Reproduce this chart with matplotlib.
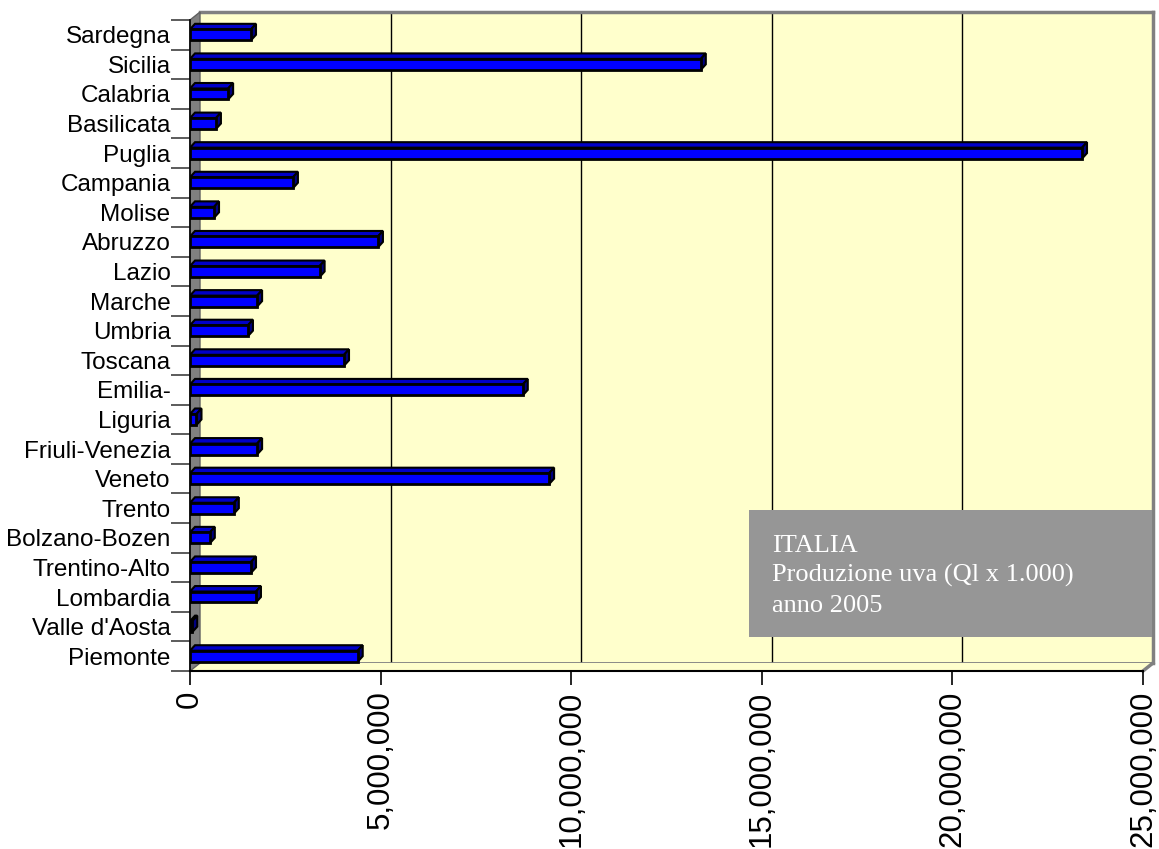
import matplotlib.pyplot as plt
from matplotlib.patches import Polygon, Rectangle
from matplotlib.ticker import FuncFormatter, FixedLocator

# regioni, dal basso verso l'alto
regioni = ["Piemonte", "Valle d'Aosta", "Lombardia", "Trentino-Alto", "Bolzano-Bozen",
           "Trento", "Veneto", "Friuli-Venezia", "Liguria", "Emilia-", "Toscana",
           "Umbria", "Marche", "Lazio", "Abruzzo", "Molise", "Campania", "Puglia",
           "Basilicata", "Calabria", "Sicilia", "Sardegna"]
produzione = [4400000, 60000, 1730000, 1600000, 520000,
              1150000, 9420000, 1760000, 170000, 8730000, 4040000,
              1520000, 1760000, 3400000, 4930000, 630000, 2700000, 23400000,
              680000, 1000000, 13400000, 1600000]
xticks = [0, 5000000, 10000000, 15000000, 20000000, 25000000]
box_righe = ["ITALIA", "Produzione uva (Ql x 1.000)", "anno 2005"]

W, H = 1159, 849
fig = plt.figure(figsize=(W / 100, H / 100), dpi=100)
fig.patch.set_facecolor('white')

YELLOW = '#FFFFCC'
GRAY = '#808080'

def fx(px):
    return px / W

def fy(py):
    return 1 - py / H

# front plane and back wall (pixel boxes)
fl, fr, ft, fb = 190, 1143, 20, 671
ox, oy = 10, 8

ax_back = fig.add_axes([fx(fl + ox), fy(fb - oy), (fr - fl) / W, (fb - ft) / H], zorder=0)
ax_back.set_facecolor(YELLOW)
ax_back.set_xlim(0, 25000000)
ax_back.set_ylim(-0.5, len(regioni) - 0.5)
ax_back.set_xticks(xticks[1:-1])
ax_back.set_yticks([])
ax_back.grid(True, axis='x', color='black', linewidth=1)
ax_back.tick_params(length=0, labelbottom=False)
for s in ['top', 'right']:
    ax_back.spines[s].set_color(GRAY)
    ax_back.spines[s].set_linewidth(2.5)
ax_back.spines['bottom'].set_color(GRAY)
ax_back.spines['bottom'].set_linewidth(2)
ax_back.spines['left'].set_visible(False)

# floor and left wall
floor = Polygon([(fx(fl), fy(fb)), (fx(fr), fy(fb)), (fx(fr + ox), fy(fb - oy)),
                 (fx(fl + ox), fy(fb - oy))], closed=True, transform=fig.transFigure,
                facecolor=YELLOW, edgecolor='none', zorder=0.5)
fig.add_artist(floor)
fig.add_artist(plt.Line2D([fx(fr), fx(fr + ox)], [fy(fb), fy(fb - oy)], color=GRAY, lw=2.5,
                          transform=fig.transFigure, zorder=0.5))
wall = Polygon([(fx(fl), fy(ft)), (fx(fl + ox), fy(ft - oy)), (fx(fl + ox), fy(fb - oy)),
                (fx(fl), fy(fb))], closed=True, transform=fig.transFigure,
               facecolor=GRAY, edgecolor='#606060', lw=1, zorder=0.6)
fig.add_artist(wall)

ax = fig.add_axes([fx(fl), fy(fb), (fr - fl) / W, (fb - ft) / H], zorder=1)
ax.patch.set_alpha(0)
ax.set_xlim(0, 25000000)
ax.set_ylim(-0.5, len(regioni) - 0.5)

# 3D bars: depth in pixels converted to data units
dpx, dpy = 5, 5.5
dx = dpx * 25000000 / (fr - fl)
dy = dpy * len(regioni) / (fb - ft)
h = 0.37
for i, v in enumerate(produzione):
    y0, y1 = i - h / 2, i + h / 2
    top = Polygon([(0, y1), (v, y1), (v + dx, y1 + dy), (dx, y1 + dy)], closed=True,
                  facecolor='#0000C8', edgecolor='black', lw=1.5, zorder=3)
    side = Polygon([(v, y0), (v + dx, y0 + dy), (v + dx, y1 + dy), (v, y1)], closed=True,
                   facecolor='#000080', edgecolor='black', lw=1.5, zorder=3)
    ax.add_patch(top)
    ax.add_patch(side)
ax.barh(range(len(regioni)), produzione, height=h, color='#0000FF', edgecolor='black',
        linewidth=2, zorder=4)

for s in ['top', 'right']:
    ax.spines[s].set_visible(False)
ax.spines['left'].set_color('black')
ax.spines['bottom'].set_color('black')
ax.spines['left'].set_linewidth(1.2)
ax.spines['bottom'].set_linewidth(1.5)

ax.set_xticks(xticks)
ax.xaxis.set_major_formatter(FuncFormatter(lambda v, p: f"{int(v):,}"))
ax.tick_params(axis='x', length=10, width=1.2, color='black', pad=4, direction='out')
for lab in ax.get_xticklabels():
    lab.set_rotation(90)
    lab.set_fontsize(22.5)
    lab.set_family('Liberation Sans')

ax.set_yticks(range(len(regioni)))
ax.set_yticklabels(regioni, fontsize=17.5, family='Liberation Sans')
ax.yaxis.set_minor_locator(FixedLocator([i - 0.5 for i in range(len(regioni) + 1)]))
ax.tick_params(axis='y', which='major', length=0, pad=14)
ax.tick_params(axis='y', which='minor', length=14, width=1.2, color='#404040')

# text box
bl, br, bt, bb = 749, 1152, 510, 637
fig.add_artist(Rectangle((fx(bl), fy(bb)), (br - bl) / W, (bb - bt) / H,
                         transform=fig.transFigure, facecolor='#969696',
                         edgecolor='none', zorder=5))
for k, riga in enumerate(box_righe):
    fig.text(fx(772), fy(552 + 30 * k), riga, color='white', fontsize=19,
             family='Liberation Serif', va='baseline', ha='left', zorder=6)

fig.savefig('out.png', dpi=100)
